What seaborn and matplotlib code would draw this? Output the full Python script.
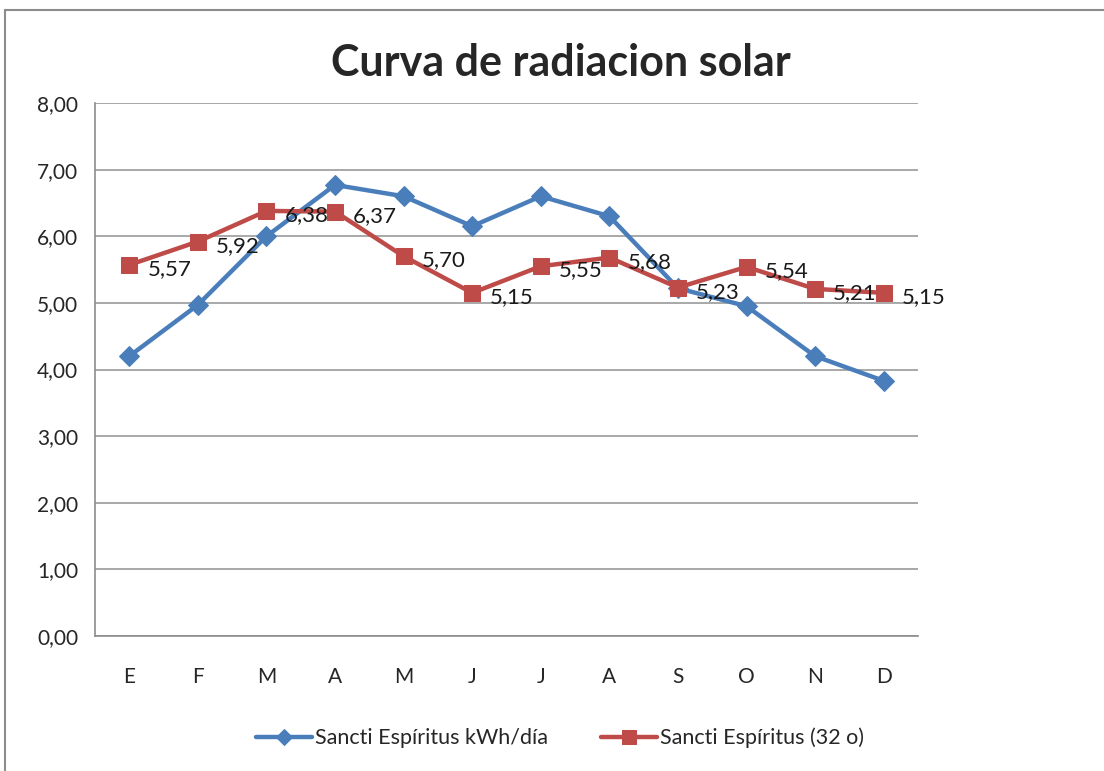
import numpy as np
import pandas as pd
import matplotlib
matplotlib.use("Agg")
import matplotlib.pyplot as plt
import seaborn as sns
from matplotlib.patches import Rectangle

months = ["E", "F", "M", "A", "M", "J", "J", "A", "S", "O", "N", "D"]
kwh_dia = [4.20, 4.97, 6.00, 6.77, 6.60, 6.15, 6.60, 6.30, 5.22, 4.95, 4.20, 3.83]
inclinado = [5.57, 5.92, 6.38, 6.37, 5.70, 5.15, 5.55, 5.68, 5.23, 5.54, 5.21, 5.15]
serie_names = ["Sancti Espíritus kWh/día", "Sancti Espíritus (32 o)"]

sns.set_theme(style="white")
plt.rcParams["font.family"] = ["Lato", "DejaVu Sans"]

df = pd.DataFrame({"pos": np.arange(len(months)), "kwh": kwh_dia, "incl": inclinado})

fig = plt.figure(figsize=(11.04, 7.71), dpi=100)
ax = fig.add_axes([95 / 1104, 1 - 636 / 771, (918 - 95) / 1104, (636 - 103) / 771])

# outer chart frame
fig.patches.append(Rectangle((5 / 1104, -0.05), 1.2, 1 - 10 / 771 + 0.05,
                             transform=fig.transFigure, fill=False,
                             edgecolor="#8c8c8c", linewidth=1.5))

blue = "#4a7ebb"
red = "#be4b48"
sns.lineplot(data=df, x="pos", y="kwh", ax=ax, color=blue, linewidth=3.2,
             marker="D", markersize=10, markeredgecolor=blue, label=serie_names[0])
sns.lineplot(data=df, x="pos", y="incl", ax=ax, color=red, linewidth=3.2,
             marker="s", markersize=12, markeredgecolor=red, label=serie_names[1])

for x, v in zip(df["pos"], inclinado):
    ax.annotate(f"{v:.2f}".replace(".", ","), (x, v), xytext=(13, -3),
                textcoords="offset points", ha="left", va="center",
                fontsize=16, color="#1a1a1a")

ax.set_xlim(-0.5, len(months) - 0.5)
ax.set_ylim(0, 8)
ax.set_yticks(np.arange(0, 9, 1))
ax.set_yticklabels([f"{v:.2f}".replace(".", ",") for v in np.arange(0, 9, 1)])
ax.set_xticks(np.arange(len(months)))
ax.set_xticklabels(months)
ax.set_xticks(np.arange(-0.5, len(months), 1), minor=True)
ax.tick_params(axis="x", which="major", length=0, pad=22, labelsize=15)
ax.tick_params(axis="x", which="minor", length=6, color="#8c8c8c", width=1)
ax.tick_params(axis="y", length=6, color="#8c8c8c", width=1, labelsize=15, pad=6)
ax.yaxis.grid(True, color="#9a9a9a", linewidth=1.2)
ax.set_axisbelow(True)
ax.set_xlabel("")
ax.set_ylabel("")
for s in ["top", "right"]:
    ax.spines[s].set_visible(False)
for s in ["left", "bottom"]:
    ax.spines[s].set_color("#8c8c8c")
    ax.spines[s].set_linewidth(1.2)

fig.text(561 / 1104, 1 - 63 / 771, "Curva de radiacion solar", ha="center",
         va="center", fontsize=31, fontweight="bold")

ax.legend(loc="center", bbox_to_anchor=(560 / 1104, 1 - 738 / 771),
          bbox_transform=fig.transFigure, ncol=2, frameon=False, fontsize=15.5,
          handlelength=2.6, columnspacing=2.5, handletextpad=0.1,
          markerscale=0.8)

fig.savefig("out.png", dpi=100)
